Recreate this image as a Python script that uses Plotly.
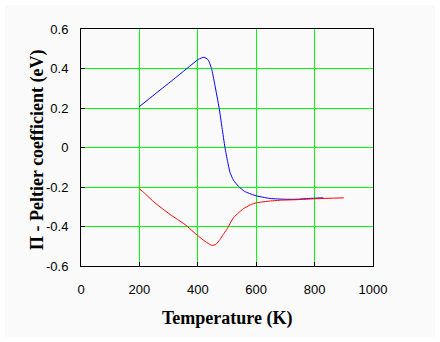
import plotly.graph_objects as go

# Peltier coefficient vs temperature, two carrier branches
temp_blue = [199, 253, 305, 356, 402, 421, 435, 447, 458, 473, 483, 493, 502, 510,
             522, 539, 560, 596, 647, 700, 740, 780, 830]
pi_blue = [0.206, 0.270, 0.331, 0.392, 0.446, 0.457, 0.445, 0.40, 0.32, 0.20, 0.10,
           0.0, -0.07, -0.125, -0.165, -0.196, -0.222, -0.243, -0.258, -0.262,
           -0.262, -0.258, -0.255]

temp_red = [200, 215, 253, 305, 356, 402, 425, 448, 462, 476, 487, 499, 522, 540,
            556, 580, 601, 641, 682, 740, 808, 900]
pi_red = [-0.209, -0.228, -0.28, -0.339, -0.39, -0.449, -0.475, -0.496, -0.49,
          -0.466, -0.441, -0.415, -0.356, -0.33, -0.31, -0.29, -0.28, -0.272,
          -0.267, -0.264, -0.259, -0.255]

x_ticks = [0, 200, 400, 600, 800, 1000]
y_ticks = [0.6, 0.4, 0.2, 0, -0.2, -0.4, -0.6]
y_tick_text = ["0.6", "0.4", "0.2", "0", "-0.2", "-0.4", "-0.6"]

W, H = 440, 342
L, R, T, B = 81, 67, 29, 76
pw, ph = W - L - R, H - T - B


def px_to_paper_x(px):
    return (px - L) / pw


def px_to_paper_y(py):
    return (H - B - py) / ph


fig = go.Figure()
fig.add_trace(go.Scatter(x=temp_blue, y=pi_blue, mode="lines",
                         line=dict(color="#0000FF", width=1, shape="spline", smoothing=0.5),
                         showlegend=False))
fig.add_trace(go.Scatter(x=temp_red, y=pi_red, mode="lines",
                         line=dict(color="#FF0000", width=1, shape="spline", smoothing=0.5),
                         showlegend=False))

tick_font = dict(family="Liberation Sans, Arial, sans-serif", size=13, color="black")
title_font = dict(family="Liberation Serif, Times New Roman, serif", size=18, color="black")

fig.update_xaxes(range=[0, 1000], tickvals=x_ticks, showgrid=True, gridcolor="#00FF00",
                 gridwidth=1, showline=True, linecolor="black", linewidth=1, mirror=True,
                 ticks="inside", ticklen=4, tickcolor="black", tickfont=tick_font,
                 zeroline=False, ticklabelstandoff=11)
fig.update_yaxes(range=[-0.6, 0.6], tickvals=y_ticks, ticktext=y_tick_text, showgrid=True,
                 gridcolor="#00FF00", gridwidth=1, showline=True, linecolor="black",
                 linewidth=1, mirror=True, ticks="inside", ticklen=4, tickcolor="black",
                 tickfont=tick_font, zeroline=False, ticklabelstandoff=9)

# light panel with a thin white rim
fig.add_shape(type="rect", xref="paper", yref="paper", layer="below",
              x0=px_to_paper_x(5), x1=px_to_paper_x(435),
              y0=px_to_paper_y(337), y1=px_to_paper_y(5),
              fillcolor="#FAFAFA", line=dict(width=0))

fig.add_annotation(text="<b>Temperature (K)</b>", xref="paper", yref="paper",
                   x=px_to_paper_x(227), y=px_to_paper_y(318), showarrow=False,
                   font=title_font, xanchor="center", yanchor="middle")
fig.add_annotation(text="<b>\u03a0 - Peltier coefficient (eV)</b>", xref="paper", yref="paper",
                   x=px_to_paper_x(37), y=px_to_paper_y(150), showarrow=False,
                   textangle=-90, font=title_font, xanchor="center", yanchor="middle")

fig.update_layout(width=W, height=H, margin=dict(l=L, r=R, t=T, b=B),
                  paper_bgcolor="white", plot_bgcolor="#FAFAFA")

fig.write_html("out.html")
